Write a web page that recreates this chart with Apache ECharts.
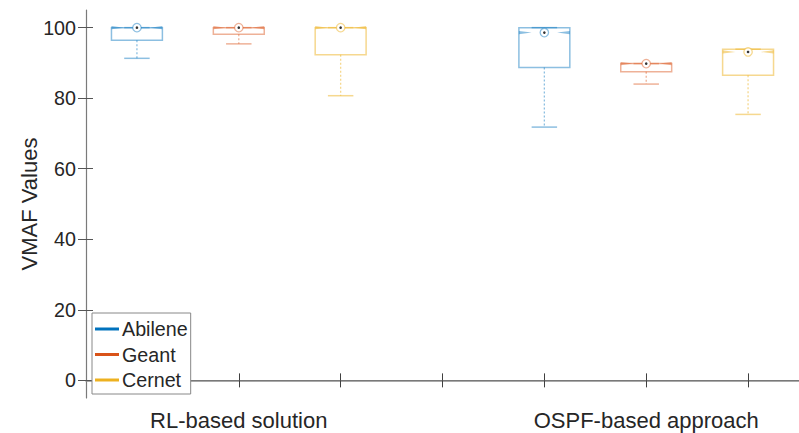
<!DOCTYPE html>
<html>
<head>
<meta charset="utf-8">
<script src="https://cdn.jsdelivr.net/npm/echarts@6/dist/echarts.min.js"></script>
<style>
html,body{margin:0;padding:0;background:#fff;overflow:hidden;}
#main{width:799px;height:433px;}
</style>
</head>
<body>
<div id="main"></div>
<script>
// ---- data ----
const groupLabels = ['RL-based solution', 'OSPF-based approach'];
const groupPositions = [2, 6];
const seriesNames = ['Abilene', 'Geant', 'Cernet'];
const seriesColors = ['#0072BD', '#D95319', '#EDB120'];
const lightColors = ['rgba(0,114,189,0.45)', 'rgba(217,83,25,0.45)', 'rgba(237,177,32,0.5)'];
// box positions on x axis
const abilenePos = [1, 5];
const geantPos = [2, 6];
const cernetPos = [3, 7];
// [whiskerLow, q1, median, q3, whiskerHigh]
const abilene = [[91.3, 96.4, 100, 100, 100], [71.8, 88.7, 98.6, 100, 100]];
const geant = [[95.4, 98.1, 100, 100, 100], [84.0, 87.5, 89.8, 89.8, 89.8]];
const cernet = [[80.7, 92.3, 100, 100, 100], [75.4, 86.5, 93.1, 93.9, 93.9]];
const yTicks = [0, 20, 40, 60, 80, 100];
const xTicks = [1, 2, 3, 4, 5, 6, 7];

function build(pos, vals) {
  return pos.map((p, i) => [p].concat(vals[i]));
}
const allData = [build(abilenePos, abilene), build(geantPos, geant), build(cernetPos, cernet)];

function makeRender(idx) {
  const lc = lightColors[idx];
  return function (params, api) {
    const x = api.value(0);
    const low = api.value(1), q1 = api.value(2), med = api.value(3), q3 = api.value(4), high = api.value(5);
    const cx = api.coord([x, med])[0];
    const yLow = api.coord([x, low])[1];
    const yQ1 = api.coord([x, q1])[1];
    const yMed = api.coord([x, med])[1];
    const yQ3 = api.coord([x, q3])[1];
    const yHigh = api.coord([x, high])[1];
    const halfW = api.size([0.5, 0])[0] / 2;
    const capHalf = halfW / 2;
    const notchLen = halfW * 0.5;
    const lineStyle = { stroke: lc, lineWidth: 1.5, fill: null };
    const children = [
      { type: 'line', shape: { x1: cx, y1: yQ1, x2: cx, y2: yLow }, style: { stroke: lc, lineWidth: 1.3, lineDash: [2, 2] } },
      { type: 'line', shape: { x1: cx, y1: yQ3, x2: cx, y2: yHigh }, style: { stroke: lc, lineWidth: 1.3, lineDash: [2, 2] } },
      { type: 'line', shape: { x1: cx - capHalf, y1: yLow, x2: cx + capHalf, y2: yLow }, style: { stroke: lc, lineWidth: 1.5 } },
      { type: 'line', shape: { x1: cx - capHalf, y1: yHigh, x2: cx + capHalf, y2: yHigh }, style: { stroke: lc, lineWidth: 1.5 } },
      { type: 'rect', shape: { x: cx - halfW, y: yQ3, width: 2 * halfW, height: yQ1 - yQ3 }, style: lineStyle },
      { type: 'polygon', shape: { points: [[cx - halfW, yMed - 1.6], [cx - halfW + notchLen, yMed], [cx - halfW, yMed + 1.6]] }, style: { fill: lc } },
      { type: 'polygon', shape: { points: [[cx + halfW, yMed - 1.6], [cx + halfW - notchLen, yMed], [cx + halfW, yMed + 1.6]] }, style: { fill: lc } },
      { type: 'circle', shape: { cx: cx, cy: yMed, r: 4.2 }, style: { stroke: lc, lineWidth: 1.3, fill: '#fff' } },
      { type: 'circle', shape: { cx: cx, cy: yMed, r: 1.3 }, style: { fill: '#333' } }
    ];
    return { type: 'group', children: children };
  };
}

const chart = echarts.init(document.getElementById('main'), null, { renderer: 'svg' });
const fontFamily = 'Liberation Sans, Arial, Helvetica, sans-serif';

const option = {
  animation: false,
  backgroundColor: '#fff',
  grid: { left: 86, right: -11.5, top: 10, bottom: 35, containLabel: false },
  legend: {
    orient: 'vertical',
    left: 92,
    top: 313,
    data: seriesNames.map(n => ({ name: n, icon: 'rect' })),
    itemWidth: 24,
    itemHeight: 3,
    itemGap: 5.5,
    padding: [6, 3, 4, 3],
    borderColor: '#888',
    borderWidth: 1,
    backgroundColor: '#fff',
    textStyle: { fontFamily: fontFamily, fontSize: 19.7, color: '#262626', padding: [0, 0, 0, -2] }
  },
  xAxis: [
    {
      type: 'value', min: 0.5, max: 7.5, position: 'bottom',
      axisLine: { show: true, lineStyle: { color: '#404040', width: 1 } },
      axisTick: { show: true, inside: true, length: 7, customValues: xTicks, lineStyle: { color: '#404040' } },
      axisLabel: {
        show: true, customValues: groupPositions, margin: 11,
        fontFamily: fontFamily, fontSize: 22, color: '#262626',
        formatter: function (v) { const i = groupPositions.indexOf(v); return i >= 0 ? groupLabels[i] : ''; }
      },
      splitLine: { show: false }
    },
    {
      type: 'value', min: 0.5, max: 7.5, position: 'top',
      axisLine: { show: true, lineStyle: { color: '#8c8c8c', width: 1.5 } },
      axisTick: { show: true, inside: true, length: 7, customValues: xTicks, lineStyle: { color: '#404040' } },
      axisLabel: { show: false },
      splitLine: { show: false }
    }
  ],
  yAxis: [
    {
      type: 'value', min: -5, max: 105, position: 'left',
      name: 'VMAF Values', nameLocation: 'middle', nameGap: 46, nameMoveOverlap: false,
      nameTextStyle: { fontFamily: fontFamily, fontSize: 22, color: '#262626' },
      axisLine: { show: true, lineStyle: { color: '#7a7a7a', width: 1.2 } },
      axisTick: { show: true, inside: false, length: 8, customValues: yTicks, lineStyle: { color: '#555' } },
      axisLabel: { show: true, customValues: yTicks, margin: 10, fontFamily: fontFamily, fontSize: 19.7, color: '#262626' },
      splitLine: { show: false }
    },
    {
      type: 'value', min: -5, max: 105, position: 'left',
      axisLine: { show: false },
      axisTick: { show: true, inside: true, length: 7, customValues: yTicks, lineStyle: { color: '#555' } },
      axisLabel: { show: false },
      splitLine: { show: false }
    }
  ],
  series: seriesNames.map((name, i) => ({
    name: name,
    type: 'custom',
    xAxisIndex: 0,
    yAxisIndex: 0,
    itemStyle: { color: seriesColors[i] },
    encode: { x: 0, y: [1, 2, 3, 4, 5] },
    renderItem: makeRender(i),
    data: allData[i],
    clip: false
  }))
};
chart.setOption(option);
</script>
</body>
</html>
